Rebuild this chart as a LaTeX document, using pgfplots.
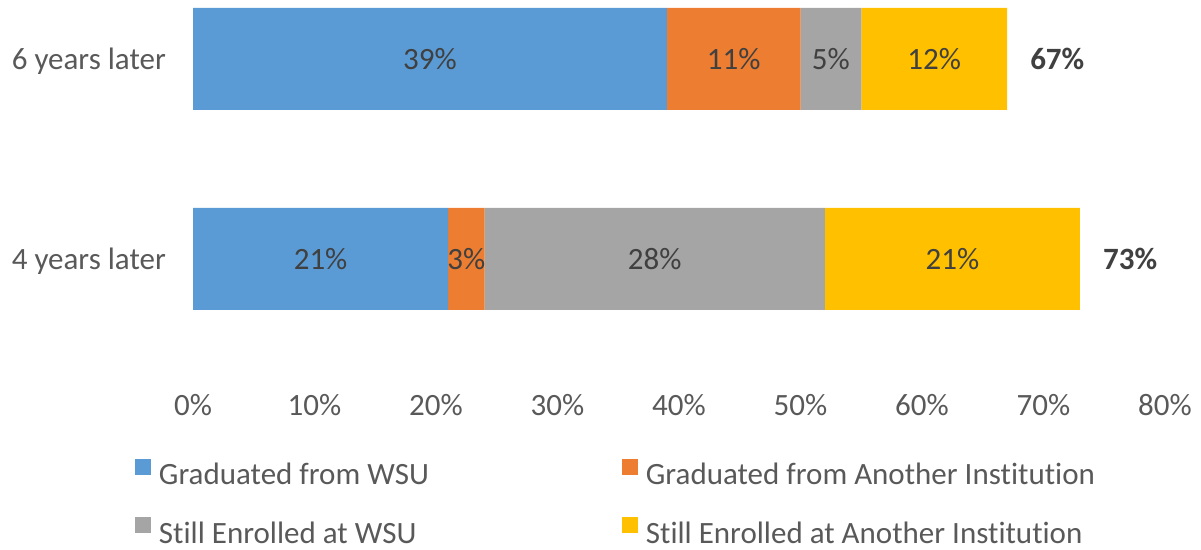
\documentclass[border=0pt]{standalone}
\usepackage{pgfplots}
\pgfplotsset{compat=1.18}
\usepackage{fontspec}
\setmainfont[Ligatures=NoCommon]{Carlito}
\definecolor{cblue}{HTML}{5B9BD5}
\definecolor{corange}{HTML}{ED7D31}
\definecolor{cgray}{HTML}{A5A5A5}
\definecolor{cyellow}{HTML}{FFC000}
\definecolor{txt}{HTML}{595959}
\definecolor{lbl}{HTML}{404040}
\newcommand{\bigf}{\fontsize{31bp}{37bp}\selectfont}
\pgfplotsset{
  base/.style={
    at={(193bp,175bp)}, anchor=south west,
    width=972bp, height=375bp, scale only axis,
    xmin=0, xmax=80, ymin=-0.58, ymax=1.295,
  }
}
\begin{document}
\begin{tikzpicture}
\useasboundingbox (0,0) rectangle (1201bp,550bp);
\begin{axis}[base,
  xbar stacked, bar width=0.51,
  axis line style={draw=none}, tick style={draw=none}, major tick length=0,
  xtick={0,10,...,80},
  xticklabels={0\%,10\%,20\%,30\%,40\%,50\%,60\%,70\%,80\%},
  ytick={0,1}, yticklabels={4 years later,6 years later},
  ticklabel style={font=\bigf, text=txt},
  yticklabel style={inner sep=0pt, xshift=-27bp, yshift=-2bp},
  xticklabel style={inner sep=0pt, yshift=-19bp},
  legend columns=2,
  legend cell align=left,
  legend image code/.code={\fill[#1] (0bp,0bp) rectangle (16bp,16bp);},
  legend style={at={(axis description cs:-0.0597,-0.2227)}, anchor=north west,
    draw=none, fill=none, inner sep=0pt, outer sep=0pt, font=\bigf, text=txt,
    nodes={inner sep=0pt}, column sep=8bp, row sep=31bp,
    /tikz/every even column/.append style={column sep=193bp}},
]
\addplot[fill=cblue, draw=none] coordinates {(21,0) (39,1)};
\addlegendentry{Graduated from WSU}
\addplot[fill=corange, draw=none] coordinates {(3,0) (11,1)};
\addlegendentry{Graduated from Another Institution}
\addplot[fill=cgray, draw=none] coordinates {(28,0) (5,1)};
\addlegendentry{Still Enrolled at WSU}
\addplot[fill=cyellow, draw=none] coordinates {(21,0) (12,1)};
\addlegendentry{Still Enrolled at Another Institution}
\end{axis}
\begin{axis}[base, hide axis]
\addplot[draw=none, nodes near coords, point meta=explicit symbolic,
  every node near coord/.style={anchor=center, inner sep=0pt, font=\bigf, text=lbl}]
  coordinates {(10.5,0) [21\%] (22.5,0) [3\%] (38,0) [28\%] (62.5,0) [21\%]
               (19.5,1) [39\%] (44.5,1) [11\%] (52.5,1) [5\%] (61,1) [12\%]};
\addplot[draw=none, nodes near coords, point meta=explicit symbolic,
  every node near coord/.style={anchor=west, inner sep=0pt, xshift=23bp, font=\bigf\bfseries, text=lbl}]
  coordinates {(73,0) [73\%] (67,1) [67\%]};
\end{axis}
\end{tikzpicture}
\end{document}
